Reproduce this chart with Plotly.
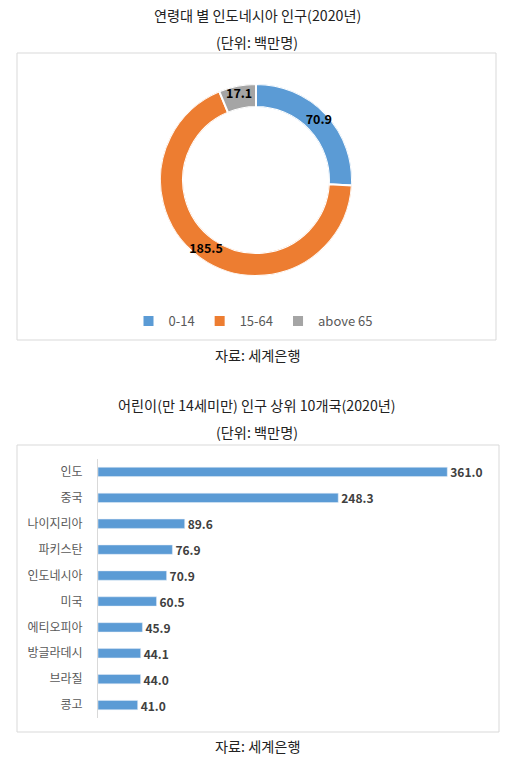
import plotly.graph_objects as go

W, H = 511, 774

# Donut data
age_groups = ["0-14", "15-64", "above 65"]
age_values = [70.9, 185.5, 17.1]
age_colors = ["#5B9BD5", "#ED7D31", "#A5A5A5"]

# Bar data
countries = ["인도", "중국", "나이지리아", "파키스탄", "인도네시아", "미국", "에티오피아", "방글라데시", "브라질", "콩고"]
children = [361.0, 248.3, 89.6, 76.9, 70.9, 60.5, 45.9, 44.1, 44.0, 41.0]

FONT = "Noto Sans CJK KR"


def px(x):
    return x / W


def py(y):
    return 1 - y / H


# slice angles derived from the data
total = sum(age_values)
mids, widths = [], []
acc = 0.0
for v in age_values:
    widths.append(v / total * 360)
    mids.append((acc + v / 2) / total * 360)
    acc += v

ring_dom = dict(x=[px(160), px(352)], y=[py(276), py(84)])

fig = go.Figure()

for name, v, th, wd, col in zip(age_groups, age_values, mids, widths, age_colors):
    fig.add_trace(go.Barpolar(
        r=[1], theta=[th], width=[wd], name=name,
        marker=dict(color=col, line=dict(color="white", width=2)),
        hovertemplate=f"{name}: {v}<extra></extra>",
    ))

fig.add_trace(go.Scatterpolar(
    r=[0.58] * len(age_values), theta=mids, mode="text",
    text=[f"<b>{v:.1f}</b>" for v in age_values],
    textfont=dict(family=FONT, size=12.5, color="#000000"),
    showlegend=False, hoverinfo="skip",
))

fig.add_trace(go.Bar(
    x=children, y=countries, orientation="h",
    marker=dict(color="#5B9BD5"),
    text=[f"<b>{v:.1f}</b>" for v in children], textposition="outside",
    constraintext="none",
    textfont=dict(family=FONT, size=12, color="#404040"),
    cliponaxis=False, showlegend=False,
    xaxis="x", yaxis="y",
))

ann_font = dict(family=FONT, size=14.2, color="#222222")


def title(text, y):
    return dict(text=text, x=px(257), y=py(y), xref="paper", yref="paper",
                xanchor="center", yanchor="middle", showarrow=False, font=ann_font)


fig.update_layout(
    width=W, height=H,
    margin=dict(l=0, r=0, t=0, b=0),
    paper_bgcolor="white", plot_bgcolor="white",
    font=dict(family=FONT, size=12, color="#595959"),
    bargap=0.64,
    legend=dict(orientation="h", x=px(253), xanchor="center", y=py(321), yanchor="middle",
                font=dict(family=FONT, size=13, color="#595959"),
                itemwidth=30, traceorder="normal"),
    polar=dict(domain=ring_dom, bgcolor="rgba(0,0,0,0)", hole=0.76,
               radialaxis=dict(visible=False, range=[0, 1]),
               angularaxis=dict(visible=False, direction="clockwise", rotation=90)),
    xaxis=dict(domain=[px(98), px(485)], range=[0, 400], visible=False, showgrid=False, zeroline=False),
    yaxis=dict(domain=[py(718), py(459)], autorange="reversed", showgrid=False, zeroline=False,
               showline=True, linecolor="#D9D9D9", linewidth=1, ticks="", ticklabelstandoff=12,
               tickfont=dict(family=FONT, size=12, color="#595959")),
    shapes=[
        dict(type="rect", xref="paper", yref="paper", x0=px(17), x1=px(496), y0=py(340), y1=py(53),
             line=dict(color="#D9D9D9", width=1)),
        dict(type="rect", xref="paper", yref="paper", x0=px(17), x1=px(499), y0=py(732), y1=py(445),
             line=dict(color="#D9D9D9", width=1)),
    ],
    annotations=[
        title("연령대 별 인도네시아 인구(2020년)", 15),
        title("(단위: 백만명)", 42),
        title("자료: 세계은행", 355),
        title("어린이(만 14세미만) 인구 상위 10개국(2020년)", 405),
        title("(단위: 백만명)", 432),
        title("자료: 세계은행", 746),
    ],
)

fig.write_html("out.html", config={"displayModeBar": False},
               post_script="document.body.style.margin='0px';")
